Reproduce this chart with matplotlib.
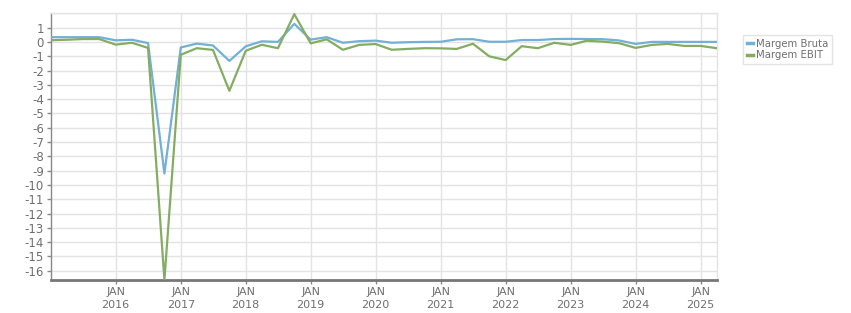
import numpy as np
import pandas as pd
import matplotlib.pyplot as plt

# Quarterly dates (Jan 2015 .. Apr 2025)
dates = pd.date_range('2015-01-01', periods=42, freq='QS')
tick_years = list(range(2016, 2026))

margem_bruta = [0.33, 0.33, 0.33, 0.33, 0.11, 0.15, -0.08, -9.2,
                -0.39, -0.12, -0.25, -1.33, -0.31, 0.04, 0.0, 1.26,
                0.16, 0.33, -0.06, 0.05, 0.09, -0.06, -0.02, 0.0,
                0.01, 0.18, 0.19, 0.01, 0.01, 0.13, 0.13, 0.2,
                0.21, 0.2, 0.19, 0.1, -0.14, 0.0, 0.0, 0.0,
                0.0, 0.0]
margem_ebit = [0.12, 0.15, 0.2, 0.2, -0.19, -0.06, -0.42, -16.65,
               -0.9, -0.44, -0.56, -3.42, -0.62, -0.2, -0.44, 1.94,
               -0.1, 0.18, -0.55, -0.21, -0.15, -0.55, -0.49, -0.44,
               -0.45, -0.49, -0.13, -1.01, -1.27, -0.3, -0.44, -0.06,
               -0.21, 0.08, 0.02, -0.09, -0.42, -0.21, -0.14, -0.28,
               -0.28, -0.44]

blue = '#72b0d6'
green = '#84ad63'
grid_c = '#e3e3e3'
text_c = '#6f6f6f'

fig = plt.figure(figsize=(8.51, 3.13), dpi=100)
ax = fig.add_axes([0.0596, 0.1054, 0.7826, 0.8521])

ax.plot(dates, margem_bruta, color=blue, lw=1.6, label='Margem Bruta', zorder=3)
ax.plot(dates, margem_ebit, color=green, lw=1.6, label='Margem EBIT', zorder=3)

ax.set_xlim(dates[0], dates[-1])
ax.set_ylim(-16.65, 2)
ax.set_yticks(np.arange(-16, 2))
ax.set_yticklabels([str(v) for v in range(-16, 2)])
ax.axhline(2, color=grid_c, lw=1, zorder=1)

ax.set_xticks([pd.Timestamp(f'{y}-01-01') for y in tick_years])
ax.set_xticklabels([f'JAN\n{y}' for y in tick_years], linespacing=1.35)

ax.grid(True, color=grid_c, lw=1, zorder=0)
ax.set_axisbelow(True)

for s in ['top', 'right']:
    ax.spines[s].set_color(grid_c)
    ax.spines[s].set_linewidth(1)
ax.spines['left'].set_color('#888888')
ax.spines['left'].set_linewidth(1)
ax.spines['bottom'].set_color('#777777')
ax.spines['bottom'].set_linewidth(2)

ax.tick_params(axis='y', colors='#888888', labelcolor=text_c, labelsize=8.5,
               length=3, width=1, pad=2)
ax.tick_params(axis='x', colors='#888888', labelcolor=text_c, labelsize=8,
               length=3, width=1, pad=2)

leg = fig.legend(loc='upper left', bbox_to_anchor=(0.867, 0.905), fontsize=7.3,
                 frameon=True, fancybox=False, handlelength=0.6, handletextpad=0.3,
                 borderpad=0.4, labelspacing=0.15, labelcolor=text_c)
leg.get_frame().set_edgecolor('#dddddd')
leg.get_frame().set_linewidth(1)
for ln in leg.get_lines():
    ln.set_linewidth(2.5)

fig.savefig('out.png', dpi=100)
